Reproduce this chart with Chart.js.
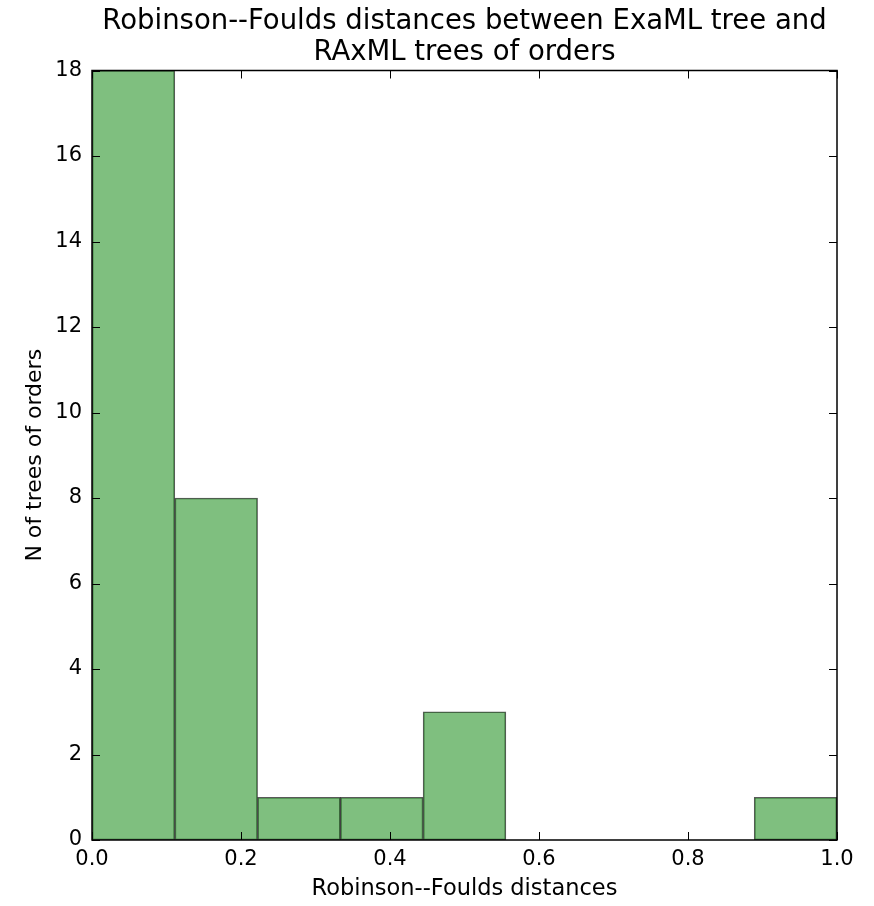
<!DOCTYPE html>
<html><head><meta charset="utf-8">
<script src="https://cdn.jsdelivr.net/npm/chart.js@4"></script>
<style>html,body{margin:0;padding:0;background:#fff}#wrap{width:874px;height:906px}</style>
</head><body><div id="wrap"><canvas id="c" width="874" height="906"></canvas></div>
<script>
const binCenters = [0.0556, 0.1667, 0.2778, 0.3889, 0.5, 0.6111, 0.7222, 0.8333, 0.9444];
const counts = [18, 8, 1, 1, 3, 0, 0, 0, 1];
const xTicks = [0.0, 0.2, 0.4, 0.6, 0.8, 1.0];
const yTicks = [0, 2, 4, 6, 8, 10, 12, 14, 16, 18];
const titleLines = ['Robinson--Foulds distances between ExaML tree and', 'RAxML trees of orders'];
const xLabel = 'Robinson--Foulds distances';
const yLabel = 'N of trees of orders';

const FONT = 'DejaVu Sans';

const frame = {
  id: 'frame',
  afterDatasetsDraw(chart) {
    const {ctx, chartArea: a, scales} = chart;
    ctx.save();
    ctx.strokeStyle = '#000';
    ctx.lineWidth = 1;
    const L = 8;
    ctx.beginPath();
    xTicks.forEach(v => {
      const px = Math.round(scales.x.getPixelForValue(v)) + 0.5;
      ctx.moveTo(px, a.bottom); ctx.lineTo(px, a.bottom - L);
      ctx.moveTo(px, a.top); ctx.lineTo(px, a.top + L);
    });
    yTicks.forEach(v => {
      const py = Math.round(scales.y.getPixelForValue(v)) + 0.5;
      ctx.moveTo(a.left, py); ctx.lineTo(a.left + L, py);
      ctx.moveTo(a.right, py); ctx.lineTo(a.right - L, py);
    });
    ctx.stroke();
    ctx.lineWidth = 1.5;
    ctx.strokeRect(a.left, a.top, a.right - a.left, a.bottom - a.top);
    ctx.restore();
  }
};

new Chart(document.getElementById('c'), {
  type: 'bar',
  data: {
    datasets: [{
      data: binCenters.map((x, i) => ({x: x, y: counts[i]})),
      backgroundColor: 'rgba(0,128,0,0.5)',
      borderColor: 'rgba(0,0,0,0.65)',
      borderWidth: 1,
      barPercentage: 1.0,
      categoryPercentage: 1.0,
      borderSkipped: false
    }]
  },
  options: {
    responsive: false,
    animation: false,
    layout: {padding: {left: 0, right: 37, top: 0, bottom: 0}},
    plugins: {
      legend: {display: false},
      tooltip: {enabled: false},
      title: {
        display: true,
        fullSize: false,
        text: titleLines,
        color: '#000',
        font: {family: FONT, size: 27.5, weight: 'normal', lineHeight: 1.1},
        padding: {top: 7, bottom: 3}
      }
    },
    scales: {
      x: {
        type: 'linear',
        min: 0, max: 1,
        offset: false,
        afterFit(s) { s.height = 66; },
        afterBuildTicks(s) { s.ticks = xTicks.map(v => ({value: v})); },
        grid: {display: false, drawTicks: false},
        border: {display: false},
        ticks: {
          color: '#000', padding: 7,
          font: {family: FONT, size: 21},
          callback: v => v.toFixed(1),
          maxRotation: 0, autoSkip: false
        },
        title: {display: true, text: xLabel, color: '#000', font: {family: FONT, size: 22.5}, padding: {top: 0, bottom: 3}}
      },
      y: {
        min: 0, max: 18,
        afterFit(s) { s.width = 92; },
        afterBuildTicks(s) { s.ticks = yTicks.map(v => ({value: v})); },
        grid: {display: false, drawTicks: false},
        border: {display: false},
        ticks: {color: '#000', padding: 10, font: {family: FONT, size: 21}, autoSkip: false},
        title: {display: true, text: yLabel, color: '#000', font: {family: FONT, size: 22}, padding: {top: 22, bottom: 0}}
      }
    }
  },
  plugins: [frame]
});
</script></body></html>
